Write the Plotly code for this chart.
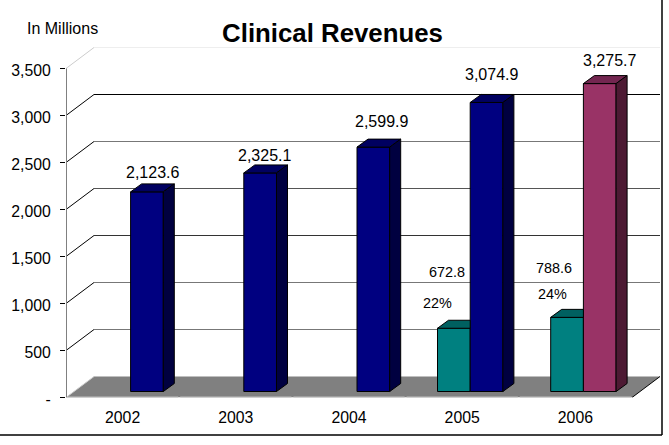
import plotly.graph_objects as go

# ---- data ----
categories = ["2002", "2003", "2004", "2005", "2006"]
total_revenue = [2123.6, 2325.1, 2599.9, 3074.9, 3275.7]
clinical_idx = [3, 4]
clinical_revenue = [672.8, 788.6]
clinical_pct = ["22%", "24%"]
y_ticks = [0, 500, 1000, 1500, 2000, 2500, 3000, 3500]
y_tick_labels = ["-", "500", "1,000", "1,500", "2,000", "2,500", "3,000", "3,500"]

# ---- pixel frame of the plot ----
W, H = 669, 445
PX_L, PX_R, PX_T, PX_B = 66, 661, 45.5, 397.5
PX_PER_CAT = 113.2
PX_PER_UNIT = 47 / 500.0
def dxu(p): return p / PX_PER_CAT
def dyu(p): return p / PX_PER_UNIT

FONT = "Liberation Sans, Arial, sans-serif"
WALL_DX, WALL_DY = dxu(28), dyu(21)
BAR_DX, BAR_DY = dxu(11), dyu(8)
BAR_W = dxu(32.7)
BASE = dyu(6)
SHIFT = dxu(8)

navy = ("#000080", "#000040", "#000060")
maroon = ("#993366", "#4d1a33", "#732650")
teal = ("#008080", "#004040", "#006060")

fig = go.Figure()

# ---- wall, floor (below the bars) ----
shapes = []
def seg(x0, y0, x1, y1, color, width=1):
    shapes.append(dict(type="line", xref="x", yref="y", x0=x0, y0=y0, x1=x1, y1=y1,
                       layer="below", line=dict(color=color, width=width)))

n = len(categories)
shapes.append(dict(type="path", xref="x", yref="y", layer="below", line=dict(width=0),
                   fillcolor="#808080",
                   path=f"M 0 0 L {n} 0 L {n+WALL_DX} {WALL_DY} L {WALL_DX} {WALL_DY} Z"))
grid_colors = {500: "#777777", 1000: "#777777", 1500: "#333333", 2000: "#555555",
               2500: "#777777", 3000: "#000000", 3500: "#eeeeee"}
for lv in y_ticks[1:]:
    seg(WALL_DX, lv + WALL_DY, n + WALL_DX, lv + WALL_DY, grid_colors[lv])
    seg(0, lv, WALL_DX, lv + WALL_DY, "#cccccc" if lv == 3500 else "#000000")
seg(0, 0, WALL_DX, WALL_DY, "#cccccc")
seg(n, 0, n + WALL_DX, WALL_DY, "#000000")
seg(0, 0, 0, 3500, "#808080", 2)
for i in range(n):
    seg(i + dxu(1), 0, i + 1 - dxu(1), 0, "#c0c0c0", 2)

# ---- outer frame ----
for x0, y0, x1, y1 in [(0, 435, 662, 435), (662, 0, 662, 435)]:
    shapes.append(dict(type="line", xref="paper", yref="paper",
                       x0=x0 / W, x1=x1 / W, y0=1 - y0 / H, y1=1 - y1 / H,
                       line=dict(color="#000000", width=1.5)))

# ---- front faces ----
navy_x = [i + 0.5 + SHIFT + BAR_W / 2 for i in range(n)]
teal_x = [clinical_idx[k] + 0.5 + SHIFT - BAR_W / 2 for k in range(len(clinical_idx))]
fig.add_bar(x=teal_x, y=clinical_revenue, base=BASE, width=BAR_W,
            marker=dict(color=teal[0], line=dict(color="#000000", width=1)),
            hoverinfo="skip")
fig.add_bar(x=navy_x, y=total_revenue, base=BASE, width=BAR_W,
            marker=dict(color=[navy[0]] * (n - 1) + [maroon[0]],
                        line=dict(color="#000000", width=1)),
            hoverinfo="skip")

# ---- 3-D faces ----
def poly(xs, ys, color):
    fig.add_scatter(x=xs + xs[:1], y=ys + ys[:1], mode="lines", fill="toself", fillcolor=color,
                    line=dict(color="#000000", width=1), hoverinfo="skip")

for k in range(len(clinical_idx)):
    l = teal_x[k] - BAR_W / 2
    r = teal_x[k] + BAR_W / 2
    t = clinical_revenue[k] + BASE
    poly([l, l + BAR_DX, r, r], [t, t + BAR_DY, t + BAR_DY, t], teal[2])

for i in range(n):
    l = navy_x[i] - BAR_W / 2
    r = navy_x[i] + BAR_W / 2
    t = total_revenue[i] + BASE
    c = maroon if i == n - 1 else navy
    poly([l, l + BAR_DX, r + BAR_DX, r], [t, t + BAR_DY, t + BAR_DY, t], c[2])
    poly([r, r + BAR_DX, r + BAR_DX, r], [BASE, BASE + BAR_DY, t + BAR_DY, t], c[1])

# ---- value labels: (px offset from bar's front-left/top) ----
total_label_off = [(21.4, 19), (21, 17), (24.5, 26), (21.7, 28), (26, 23)]
annos = []
for i in range(n):
    ox, oy = total_label_off[i]
    annos.append(dict(x=navy_x[i] - BAR_W / 2 + dxu(ox), y=total_revenue[i] + BASE + dyu(oy),
                      xref="x", yref="y", text=f"{total_revenue[i]:,.1f}", showarrow=False,
                      font=dict(family=FONT, size=16, color="#000000")))
clin_val_off = [(9.7, 56), (3.7, 49)]
clin_pct_off = [(0, 25), (2, 23)]
for k in range(len(clinical_idx)):
    l = teal_x[k] - BAR_W / 2
    t = clinical_revenue[k] + BASE
    ox, oy = clin_val_off[k]
    annos.append(dict(x=l + dxu(ox), y=t + dyu(oy), xref="x", yref="y", showarrow=False,
                      text=f"{clinical_revenue[k]:,.1f}",
                      font=dict(family=FONT, size=14.4, color="#000000")))
    ox, oy = clin_pct_off[k]
    annos.append(dict(x=l + dxu(ox), y=t + dyu(oy), xref="x", yref="y", showarrow=False,
                      text=clinical_pct[k],
                      font=dict(family=FONT, size=14.4, color="#000000")))
annos.append(dict(x=62 / W, y=1 - 28.5 / H, xref="paper", yref="paper", showarrow=False,
                  xanchor="center", yanchor="middle",
                  text="In Millions", font=dict(family=FONT, size=16, color="#000000")))

fig.update_layout(
    width=W, height=H, autosize=False,
    margin=dict(l=0, r=0, t=0, b=0),
    paper_bgcolor="#ffffff", plot_bgcolor="rgba(0,0,0,0)",
    showlegend=False, barmode="overlay",
    shapes=shapes, annotations=annos,
    title=dict(text="<b>Clinical Revenues</b>", x=332.5 / W, xanchor="center",
               y=1 - 33 / H, yanchor="middle",
               font=dict(family=FONT, size=25.8, color="#000000")),
    xaxis=dict(domain=[PX_L / W, PX_R / W], range=[0, (PX_R - PX_L) / PX_PER_CAT],
               automargin=False,
               tickmode="array", tickvals=[i + 0.5 for i in range(n)], ticktext=categories,
               ticks="", showgrid=False, zeroline=False, showline=False,
               ticklabelstandoff=9,
               tickfont=dict(family=FONT, size=15.8, color="#000000")),
    yaxis=dict(domain=[1 - PX_B / H, 1 - PX_T / H], range=[0, dyu(PX_B - PX_T)],
               automargin=False,
               tickmode="array", tickvals=y_ticks, ticktext=y_tick_labels,
               ticks="outside", ticklen=5, tickcolor="#000000", tickwidth=1,
               showgrid=False, zeroline=False, showline=False,
               ticklabelstandoff=6, ticklabelshift=2,
               tickfont=dict(family=FONT, size=15.8, color="#000000")),
)

fig.write_html("out.html", config=dict(displayModeBar=False),
               post_script="document.body.style.margin='0';")
